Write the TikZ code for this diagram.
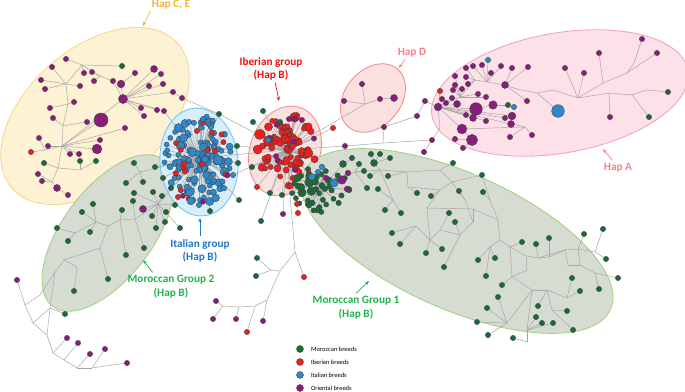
\documentclass[tikz,border=0pt]{standalone}
\usepackage{fontspec}
\setmainfont{Carlito}
\usepackage{tikz}
\usetikzlibrary{arrows.meta,positioning}

\definecolor{morg}{HTML}{1A6B38}
\definecolor{iber}{HTML}{F01E1E}
\definecolor{ital}{HTML}{2F89C9}
\definecolor{orie}{HTML}{8A1C7C}
\definecolor{linkgray}{HTML}{A6A6A6}
\definecolor{cefill}{HTML}{FDF2D4}
\definecolor{celine}{HTML}{F8D68A}
\definecolor{mofill}{HTML}{D7DCD3}
\definecolor{moline}{HTML}{A0D27E}
\definecolor{itfill}{HTML}{D8EEFA}
\definecolor{itline}{HTML}{6CC5EF}
\definecolor{ibfill}{HTML}{FBE0E0}
\definecolor{ibline}{HTML}{F28B8B}
\definecolor{hafill}{HTML}{FCE1E8}
\definecolor{haline}{HTML}{F5A0BC}
\definecolor{hapce}{HTML}{F6B42C}
\definecolor{hapad}{HTML}{F57F86}
\definecolor{iblab}{HTML}{F20F0F}
\definecolor{itlab}{HTML}{2277C4}
\definecolor{molab}{HTML}{21B24C}

\pgfdeclarelayer{shade}
\pgfdeclarelayer{links}
\pgfsetlayers{shade,links,main}

\tikzset{
  hapdot/.style={circle,draw=black!75,line width=0.25pt,inner sep=0pt,minimum size=3.8pt},
  link/.style={draw=linkgray,line width=0.35pt},
  zone/.style={line width=0.6pt},
  grouplabel/.style={font=\fontsize{8}{9.8}\selectfont\bfseries,align=center,inner sep=0pt},
  legtext/.style={font=\fontsize{4.6}{5.5}\selectfont,inner sep=0pt},
  pointer/.style={-{Stealth[length=3pt,width=2.4pt]},line width=0.5pt},
}

\begin{document}
\begin{tikzpicture}[x=0.025cm,y=-0.025cm]
\useasboundingbox (0,0) rectangle (685,392);

% haplogroup zones
\begin{pgfonlayer}{shade}
\filldraw[zone,fill=cefill,draw=celine,rotate around={41:(95,116)}] (95,116) ellipse [x radius=110,y radius=68];
\filldraw[zone,fill=mofill,draw=moline,rotate around={53:(108,233)}] (108,233) ellipse [x radius=92,y radius=45];
\filldraw[zone,fill=itfill,draw=itline,rotate around={5:(199,162)}] (199,162) ellipse [x radius=39,y radius=54];
\filldraw[zone,fill=ibfill,draw=ibline,rotate around={-20:(285,151)}] (285,151) ellipse [x radius=35,y radius=46];
\filldraw[zone,fill=mofill,draw=moline,rotate around={-24:(457,241)}] (457,241) ellipse [x radius=168,y radius=68];
\filldraw[zone,fill=ibfill,draw=ibline,rotate around={50:(373,98)}] (373,98) ellipse [x radius=38,y radius=28];
\filldraw[zone,fill=hafill,draw=haline,rotate around={10:(560,93)}] (560,93) ellipse [x radius=130,y radius=60];
\end{pgfonlayer}

% hubs of the dense clusters
\coordinate (ithub) at (199,158);
\coordinate (ibhub) at (287,150);
\coordinate (mhub) at (322,188);

% Italian cluster
\pgfmathsetseed{4}
\foreach \i in {1,...,120}{
  \pgfmathsetmacro\ra{360*rnd}
  \pgfmathsetmacro\rr{38*rnd^0.75}
  \pgfmathsetmacro\px{199+0.92*\rr*cos(\ra)}
  \pgfmathsetmacro\py{160+1.2*\rr*sin(\ra)}
  \pgfmathsetmacro\sz{3.6+3.2*rnd^3}
  \node[hapdot,fill=ital,minimum size=\sz pt] (it\i) at (\px,\py) {};
}
\foreach \i in {1,...,16}{
  \pgfmathsetmacro\ra{360*rnd}
  \pgfmathsetmacro\rr{34*rnd^0.6}
  \pgfmathsetmacro\px{199+0.92*\rr*cos(\ra)}
  \pgfmathsetmacro\py{162+1.2*\rr*sin(\ra)}
  \node[hapdot,fill=iber] (itr\i) at (\px,\py) {};
}
\foreach \i in {1,...,3}{
  \pgfmathsetmacro\ra{360*rnd}
  \pgfmathsetmacro\px{199+30*cos(\ra)}
  \pgfmathsetmacro\py{162+40*sin(\ra)}
  \node[hapdot,fill=orie] (itp\i) at (\px,\py) {};
}
\foreach \nm/\px/\py/\col in {itg1/219/114/morg, ito2/189/122/ital, ito3/203/119/ital,
    ito4/211/127/ital, ito5/197/131/iber, itg2/237/146/morg, itg3/238/163/morg,
    ito8/233/175/ital, itg4/239/200/morg, itg5/210/211/morg, ito11/199/205/ital,
    ito12/178/197/iber}
  \node[hapdot,fill=\col] (\nm) at (\px,\py) {};
\node[hapdot,fill=ital,minimum size=5.5pt] (ito13) at (191,201) {};

% Iberian cluster
\pgfmathsetseed{21}
\foreach \i in {1,...,100}{
  \pgfmathsetmacro\ra{360*rnd}
  \pgfmathsetmacro\rr{32*rnd^0.65}
  \pgfmathsetmacro\px{287+0.95*\rr*cos(\ra)}
  \pgfmathsetmacro\py{150+1.15*\rr*sin(\ra)}
  \pgfmathsetmacro\sz{3.6+4*rnd^3}
  \node[hapdot,fill=iber,minimum size=\sz pt] (ib\i) at (\px,\py) {};
}
\foreach \i in {1,...,8}{
  \pgfmathsetmacro\ra{360*rnd}
  \pgfmathsetmacro\rr{10+22*rnd}
  \pgfmathsetmacro\px{287+0.95*\rr*cos(\ra)}
  \pgfmathsetmacro\py{150+1.15*\rr*sin(\ra)}
  \node[hapdot,fill=orie] (ibp\i) at (\px,\py) {};
}
\foreach \nm/\px/\py/\col in {io1/263/111/morg, io2/253/122/morg, io3/280/122/morg,
    io4/289/119/orie, io5/302/120/orie, io6/333/128/iber, io7/252/167/morg,
    io8/257/187/iber, io9/270/193/morg, io10/282/195/morg, io11/268/140/ital}
  \node[hapdot,fill=\col] (\nm) at (\px,\py) {};

% Moroccan core
\pgfmathsetseed{9}
\foreach \i in {1,...,42}{
  \pgfmathsetmacro\ra{360*rnd}
  \pgfmathsetmacro\rr{28*rnd^0.6}
  \pgfmathsetmacro\px{324+1.15*\rr*cos(\ra)}
  \pgfmathsetmacro\py{190+0.95*\rr*sin(\ra)}
  \pgfmathsetmacro\sz{3.6+3.4*rnd^3}
  \node[hapdot,fill=morg,minimum size=\sz pt] (mc\i) at (\px,\py) {};
}
\foreach \nm/\px/\py/\col/\sz in {mbl1/322/167/ital/4, mbl2/312/177/ital/5,
    mbl3/334/183/ital/6, mbl4/318/172/ital/3.8, mpu1/342/180/orie/6,
    mpu2/348/173/orie/4, mpu3/347/189/orie/4, mpu4/326/178/orie/4}
  \node[hapdot,fill=\col,minimum size=\sz pt] (\nm) at (\px,\py) {};

% Hap C, E
\foreach \nm/\px/\py/\col in {ce1/66/59/orie, ce2/52/67/orie, ce3/41/80/orie,
    ce4/45/89/orie, ce5/50/108/orie, ce6/53/118/orie, ce7/84/73/orie, ce8/92/72/orie,
    ce9/94/81/orie, ce10/80/86/orie, ce11/74/102/orie, ce12/113/81/orie,
    ce13/87/122/orie, ce14/135/73/orie, ce15/161/74/orie, ce16/149/86/orie,
    ce17/163/84/orie, ce18/182/98/orie, ce19/173/92/orie, ce20/141/108/orie,
    ce21/157/110/orie, ce22/164/111/orie, ce23/144/116/orie, ce24/125/128/orie,
    ce25/100/140/orie, ce26/70/154/orie, ce27/79/154/orie, ce28/39/138/orie,
    ce29/48/146/orie, ce30/31/152/iber, ce31/38/174/orie, ce32/42/181/orie,
    ce34/68/195/orie, ce35/122/66/morg, ce36/44/163/morg, ce37/80/161/morg,
    ce38/96/161/morg}
  \node[hapdot,fill=\col] (\nm) at (\px,\py) {};
\foreach \nm/\px/\py/\sz in {ce40/121/84/5.5, ce41/123/99/6.5, ce42/101/120/10,
    ce43/97/149/7, ce44/154/69/5, ce33/57/188/5}
  \node[hapdot,fill=orie,minimum size=\sz pt] (\nm) at (\px,\py) {};
\foreach \nm/\px/\py in {cj1/82/65, cj2/66/84, cj3/68/104, cj4/63/126, cj5/62/146,
    cj6/58/168, cj7/52/182, cj8/100/76, cj9/80/170, cj10/45/150}
  \coordinate (\nm) at (\px,\py);

% Hap A
\foreach \nm/\px/\py/\col in {ha1/642/39/orie, ha2/599/53/orie, ha3/657/53/orie,
    ha4/565/68/orie, ha5/584/73/orie, ha6/668/92/morg, ha7/649/117/morg,
    ha8/610/117/orie, ha9/488/60/ital, ha10/473/66/orie, ha11/482/65/orie,
    ha12/466/68/orie, ha13/501/66/orie, ha14/512/68/orie, ha15/528/67/orie,
    ha16/491/73/orie, ha17/455/76/orie, ha18/466/77/orie, ha19/468/84/orie,
    ha20/455/85/orie, ha21/453/90/orie, ha22/462/89/orie, ha23/440/91/iber,
    ha24/442/99/orie, ha25/452/98/orie, ha26/446/103/orie, ha27/478/94/orie,
    ha28/486/97/orie, ha32/508/105/morg, ha33/514/107/ital, ha34/527/101/orie,
    ha35/466/115/orie, ha37/486/121/orie, ha38/505/118/orie, ha42/510/137/orie,
    ha43/532/135/orie, ha44/455/139/orie, ha45/463/148/orie, ha46/425/101/orie,
    ha47/432/140/orie, ha48/424/152/orie}
  \node[hapdot,fill=\col] (\nm) at (\px,\py) {};
\foreach \nm/\px/\py/\col/\sz in {ha30/558/111/ital/9, ha31/505/85/orie/5,
    ha36/438/107/orie/5.5, ha29/457/104/orie/5, ha39/476/109/orie/9,
    ha40/493/105/orie/6, ha41/473/118/orie/5, ha49/512/116/orie/5.5,
    ha50/511/124/orie/5, ha51/462/129/orie/7, ha52/472/140/orie/8}
  \node[hapdot,fill=\col,minimum size=\sz pt] (\nm) at (\px,\py) {};
\foreach \nm/\px/\py in {aj1/517/89, aj2/537/93, aj3/553/90, aj4/578/98, aj5/603/83,
    aj6/627/73, aj7/634/63, aj8/632/95, aj9/646/90, aj10/609/93, aj12/487/82,
    aj13/460/97, aj14/475/80, aj15/525/127, aj16/440/128}
  \coordinate (\nm) at (\px,\py);

% Hap D
\foreach \nm/\px/\py in {hd1/362/84, hd2/344/101, hd3/380/99, hd5/384/127,
    hd6/417/116, hd7/345/146}
  \node[hapdot,fill=orie] (\nm) at (\px,\py) {};
\node[hapdot,fill=orie,minimum size=5pt] (hd4) at (394,98) {};
\coordinate (dj1) at (365,104);
\coordinate (dj2) at (383,143);

% Moroccan group 2 and its tail
\foreach \nm/\px/\py in {m2a/93/204, m2b/82/212, m2c/57/228, m2d/68/241, m2e/90/232,
    m2f/126/255, m2g/144/248, m2h/108/279, m2i/74/291, m2j/65/314, m2k/122/210,
    m2l/133/201, m2n/152/216, m2o/156/228, m2p/165/222, m2q/180/228, m2r/166/212,
    m2s/162/196, m2u/126/183, m2v/143/182, m2w/153/192, m2y/155/167, m2z/163/178,
    m2B/171/188, m2D/175/205, m2E/134/163, m2H/134/193}
  \node[hapdot,fill=morg] (\nm) at (\px,\py) {};
\node[hapdot,fill=orie,minimum size=5pt] (m2t) at (143,209) {};
\foreach \nm/\px/\py in {bl1/17/280, bl2/67/338, bl3/78/343, bl4/90/354, bl5/105/349,
    bl6/127/363}
  \node[hapdot,fill=orie] (\nm) at (\px,\py) {};
\foreach \nm/\px/\py in {gj1/158/204, gj2/135/219, gj3/120/220, gj4/108/226,
    gj5/96/222, gj6/100/248, gj7/64/260, gj8/77/267, gj9/55/272, gj10/75/233,
    gj11/140/172, bk1/25/305, bk2/40/295, bk3/50/308, bk4/33/323, bk5/47/335,
    bk6/53/353, bk7/64/360, bk8/77/368, bk9/92/368}
  \coordinate (\nm) at (\px,\py);

% tree below the Iberian group
\foreach \nm/\px/\py/\col in {bm1/261/221/morg, bm2/283/214/orie, bm3/297/204/iber,
    bm4/298/213/iber, bm5/257/258/morg, bm6/256/276/morg, bm7/304/277/iber,
    bm8/216/301/orie, bm9/213/319/orie, bm10/236/319/orie, bm11/263/321/orie,
    bm12/247/332/iber}
  \node[hapdot,fill=\col] (\nm) at (\px,\py) {};
\foreach \nm/\px/\py in {tj0/290/196, tj1/295/252, tj2/280/271, tj3/271/270,
    tj4/267/300, tj5/255/306, tj6/239/307, tj7/223/306}
  \coordinate (\nm) at (\px,\py);

% Moroccan group 1
\foreach \nm/\px/\py in {g2/352/158, g3/359/164, g4/371/154, g5/380/154, g6/390/158,
    g7/364/171, g8/370/176, g9/388/176, g10/367/188, g11/378/189, g12/385/210,
    g13/401/213, g14/417/193, g15/431/196, g16/453/163, g17/482/175, g18/483/192,
    g19/459/191, g20/449/213, g21/455/222, g22/392/233, g23/400/244, g24/426/253,
    g25/442/249, g26/444/267, g27/478/260, g28/495/258, g29/486/276, g30/502/285,
    g31/522/242, g32/536/244, g33/549/238, g34/584/234, g35/603/229, g36/606/259,
    g37/618/278, g38/599/289, g39/572/278, g40/580/291, g41/498/297, g42/487/308,
    g43/477/322, g44/538/306, g45/536/317, g46/542/323, g47/553/323, g48/567/311,
    g49/573/330, g50/513/338, g51/488/335}
  \node[hapdot,fill=morg] (\nm) at (\px,\py) {};
\node[hapdot,fill=morg,minimum size=5pt] (g52) at (374,163) {};
\node[hapdot,fill=morg,minimum size=5pt] (g53) at (343,164) {};
\foreach \nm/\px/\py in {q1/355/172, q2/380/170, q3/407/172, q4/408/187, q5/440/190,
    q6/427/208, q7/430/240, q8/416/226, q9/473/209, q10/393/200, r1/440/170,
    r2/452/182, r3/465/200, r4/473/222, r5/460/235, r6/440/230, r7/490/200,
    r8/498/220, r9/500/240, r10/510/247, r11/512/277, r12/490/247, r13/526/256,
    r14/527/270, r15/538/258, r16/565/250, r17/578/249, r18/595/252, r19/568/265,
    r20/580/265, r21/595/273, r23/549/257, r25/532/290, r26/547/290, r27/567/298,
    r28/527/330, r29/507/323, r30/552/310, r31/527/342}
  \coordinate (\nm) at (\px,\py);

% connectors
\begin{pgfonlayer}{links}
\foreach \i in {1,...,120} \draw[link] (ithub) -- (it\i);
\foreach \i in {1,...,16} \draw[link] (ithub) -- (itr\i);
\foreach \i in {1,...,3} \draw[link] (ithub) -- (itp\i);
\foreach \nm in {itg1,ito2,ito3,ito4,ito5,itg2,itg3,ito8,itg4,itg5,ito11,ito12,ito13}
  \draw[link] (ithub) -- (\nm);
\foreach \i in {1,...,100} \draw[link] (ibhub) -- (ib\i);
\foreach \i in {1,...,8} \draw[link] (ibhub) -- (ibp\i);
\foreach \nm in {io1,io2,io3,io4,io5,io6,io7,io8,io9,io10,io11,bm1,bm2,bm3,bm4}
  \draw[link] (ibhub) -- (\nm);
\foreach \i in {1,...,42} \draw[link] (mhub) -- (mc\i);
\foreach \nm in {mbl1,mbl2,mbl3,mbl4,mpu1,mpu2,mpu3,mpu4,g53}
  \draw[link] (mhub) -- (\nm);
\foreach \a/\b in {ithub/ibhub, ibhub/mhub, itg1/ibhub, ito8/ibhub, itg2/ibhub,
    % Hap C, E
    ce1/cj1, ce35/cj1, ce7/cj1, cj1/cj8, cj8/ce8, cj8/ce9, cj8/ce12, cj1/cj2,
    ce2/cj2, cj2/ce3, cj2/ce4, cj2/ce10, cj2/cj3, cj3/ce5, cj3/ce11, cj3/cj4,
    cj4/ce6, cj4/ce13, cj4/cj5, cj5/ce42, cj5/ce41, cj5/ce43, cj5/ce24, cj5/ce25,
    cj5/ce26, cj5/ce27, cj5/ce29, cj5/cj10, cj10/ce28, cj10/ce30, cj5/cj6,
    cj6/ce36, cj6/cj9, cj9/ce37, cj9/ce38, cj6/cj7, cj7/ce31, cj7/ce32, cj7/ce33,
    ce33/ce34, ce41/ce40, ce40/ce14, ce41/ce44, ce41/ce15, ce41/ce16, ce41/ce17,
    ce41/ce12, ce41/ce20, ce41/ce21, ce41/ce22, ce41/ce23, ce41/ce19, ce19/ce18,
    ce18/itg1, ce22/ithub,
    % Hap A
    ha31/aj1, aj1/aj2, aj2/aj3, aj3/aj4, aj4/aj5, aj5/aj6, aj6/aj7, aj7/ha1,
    aj6/ha3, aj5/ha2, aj4/ha4, aj4/ha5, aj4/aj10, aj10/aj8, aj8/aj9, aj9/ha6,
    aj8/ha7, aj10/ha8, aj2/ha30, ha31/aj12, aj12/ha9, aj12/ha10, aj12/ha11,
    aj12/ha16, aj12/ha13, ha31/ha14, ha31/ha15, ha31/ha34, aj12/aj14, aj14/ha12,
    aj14/ha18, aj14/ha19, aj14/aj13, aj13/ha17, aj13/ha20, aj13/ha21, aj13/ha22,
    aj13/ha27, aj13/ha28, aj13/ha36, ha36/ha23, ha36/ha24, ha36/ha25, ha36/ha26,
    ha36/ha29, ha36/ha39, ha36/ha35, ha36/ha41, ha36/ha37, ha36/ha38, ha36/ha49,
    ha36/ha50, ha36/ha51, ha39/ha40, ha40/ha32, ha40/ha33, ha51/ha52, ha51/aj15,
    aj15/ha42, aj15/ha43, aj15/ha50, ha52/ha44, ha52/ha45, ha36/ha46,
    ha36/aj16, aj16/ha47, ha47/ha48,
    % Hap D
    hd1/dj1, dj1/hd2, dj1/hd3, hd3/hd4, dj1/ibhub, hd5/dj2, dj2/hd7, hd7/ibhub,
    dj2/ha47, hd6/ha46, hd6/hd5,
    % Moroccan group 2
    gj1/ithub, gj11/ithub, m2y/ithub, m2z/ithub, m2B/ithub, gj11/m2E, gj11/m2u,
    gj11/m2v, gj1/m2s, gj1/m2r, gj1/m2p, gj1/m2q, gj1/m2n, gj1/m2o, gj1/m2t,
    gj1/m2w, gj1/m2D, gj1/m2H, gj1/gj2, gj2/m2g, gj2/m2l, gj2/gj3, gj3/m2k,
    gj3/m2f, gj3/gj4, gj4/gj5, gj5/m2a, gj5/m2b, gj5/m2e, gj5/gj10, gj10/m2c,
    gj10/m2d, gj4/gj6, gj6/m2h, gj6/gj7, gj7/gj8, gj8/m2i, gj7/gj9,
    bl1/bk1, bk1/bk4, bk4/bk5, bk5/bk6, bk6/bk7, bk7/bk8, bk8/bk9, bk9/bl6,
    bk1/bk2, bk2/gj9, bk3/gj9, bk4/bk3, bk3/bk5, bk3/m2j, bk6/bl2, bk7/bl3,
    bk8/bl4, bk9/bl5,
    % tree below the Iberian group
    ibhub/tj0, tj0/tj1, tj1/bm7, tj1/tj2, tj2/tj3, tj3/bm5, tj3/bm6, tj2/tj4,
    tj4/bm11, tj4/tj5, tj5/bm12, tj5/tj6, tj6/bm10, tj6/tj7, tj7/bm8, tj7/bm9,
    % Moroccan group 1
    mhub/q1, q1/g3, q1/g7, q1/g10, q1/q2, q2/g52, g52/g4, g52/g5, g52/g6, q2/g8,
    q2/q10, q10/g11, q10/g12, q10/g13, q2/q3, q3/g9, q3/q4, q4/g14, q4/q5, q3/r1,
    r1/g16, r1/r2, q5/r2, q5/g15, q5/q6, q6/q9, q6/q7, q7/g25, q7/g24, q7/q8,
    q8/g22, q8/g23, r2/g17, r2/r3, r3/g19, r3/r4, r4/q9, r4/r5, r5/r6, r6/g20,
    r5/g21, r6/q7, r5/g26, g17/r7, r7/g18, r7/r8, r8/q9, r8/r9, r9/r10, r9/r12,
    r12/g27, r12/g28, r12/g29, r10/g31, r10/r13, r13/r14, r14/r11, r11/r10,
    r11/g30, r13/r15, r15/g32, r15/r16, r16/r17, r17/r18, r18/g35, r17/g34,
    r18/g36, r16/r19, r19/r20, r20/r17, r20/r21, r21/g38, r21/g37, r15/r23,
    r23/g33, r23/r16, r11/r25, r25/r26, r26/r27, r27/g39, r27/g40, r26/r30,
    r30/g48, r30/g49, r26/g44, r25/r28, r28/g45, r28/g46, r28/g47, r28/r31,
    r31/g50, r25/r29, r29/g51, r29/g43, r29/g42, r29/g41, g2/g53}
  \draw[link] (\a) -- (\b);
\end{pgfonlayer}

% group labels
\node[grouplabel,text=hapce] (lbce) at (171,5) {Hap C, E};
\node[grouplabel,text=iblab] (lbib) at (271,69) {Iberian group\\(Hap B)};
\node[grouplabel,text=hapad] (lbd) at (412,53) {Hap D};
\node[grouplabel,text=hapad] (lba) at (618,168) {Hap A};
\node[grouplabel,text=itlab] (lbit) at (200,251) {Italian group\\(Hap B)};
\node[grouplabel,text=molab] (lbm2) at (171,287) {Moroccan Group 2\\(Hap B)};
\node[grouplabel,text=molab] (lbm1) at (356,308) {Moroccan Group 1\\(Hap B)};

\coordinate (tce) at (143,26);
\coordinate (tib) at (279,101);
\coordinate (td) at (399,68);
\coordinate (ta) at (603,149);
\coordinate (tit) at (200,218);
\coordinate (tm2) at (143,260);
\coordinate (tm1) at (369,281);
\draw[pointer,hapce] ([shift={(-1pt,-1pt)}]lbce.south west) -- (tce);
\draw[pointer,iblab] ([xshift=3pt,yshift=-1pt]lbib.south) -- (tib);
\draw[pointer,hapad] ([xshift=-5pt,yshift=-1pt]lbd.south) -- (td);
\draw[pointer,hapad] ([xshift=-4pt,yshift=2pt]lba.north) -- (ta);
\draw[pointer,itlab] ([yshift=2pt]lbit.north) -- (tit);
\draw[pointer,molab] ([xshift=-13pt,yshift=2pt]lbm2.north) -- (tm2);
\draw[pointer,molab] ([yshift=2pt]lbm1.north) -- (tm1);

% legend
\foreach \nm/\py/\col/\txt in {lgm/349/morg/Moroccan breeds, lgi/362/iber/Iberian breeds,
    lgt/375/ital/Italian breeds, lgo/388/orie/Oriental breeds}{
  \node[hapdot,fill=\col,minimum size=5pt] (\nm) at (300,\py) {};
  \node[legtext,right=5pt of \nm] (\nm t) {\txt};
}
\end{tikzpicture}
\end{document}
